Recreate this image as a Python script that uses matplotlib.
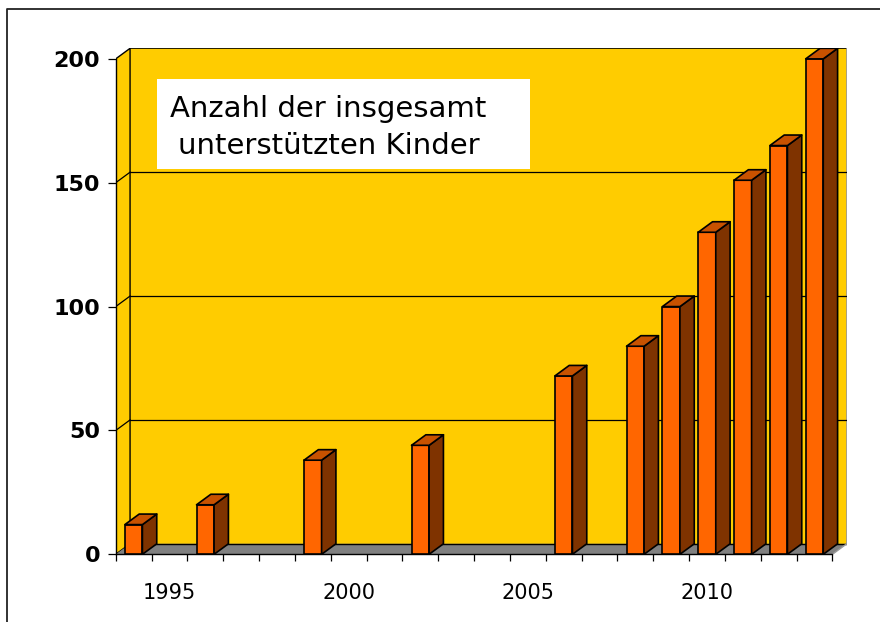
import matplotlib
matplotlib.use("Agg")
import matplotlib.pyplot as plt
from matplotlib.patches import Polygon, Rectangle
from matplotlib.lines import Line2D

# ============= Daten =============
years = list(range(1994, 2014))           # Kategorien der x-Achse
bar_years = [1994, 1996, 1999, 2002, 2006, 2008, 2009, 2010, 2011, 2012, 2013]
kinder = [12, 20, 38, 44, 72, 84, 100, 130, 151, 165, 200]
label_years = [1995, 2000, 2005, 2010]
y_ticks = [0, 50, 100, 150, 200]
title_lines = ["Anzahl der insgesamt", "unterstützten Kinder"]

# ============= Farben / 3D-Tiefe =============
WALL = '#FFCC00'
FLOOR = '#808080'
FRONT = '#FF6600'
TOP = '#C85200'
SIDE = '#7F3300'
DX = 0.4     # Tiefe in Kategorien
DZ = 4.25    # Tiefe in y-Einheiten
BW = 0.49    # Balkenbreite
YMAX = y_ticks[-1]
n = len(years)

fig = plt.figure(figsize=(8.8, 6.22), dpi=100)
ax = fig.add_axes([0.1315, 0.1088, 0.8307, 0.8135])
ax.set_xlim(0, n + DX)
ax.set_ylim(0, YMAX + DZ)
ax.patch.set_visible(False)

# Rueckwand, Seitenwand, Boden
ax.add_patch(Polygon([(DX, DZ), (n + DX, DZ), (n + DX, YMAX + DZ), (DX, YMAX + DZ)],
                     fc=WALL, ec='none', zorder=0))
ax.add_patch(Polygon([(0, 0), (DX, DZ), (DX, YMAX + DZ), (0, YMAX)],
                     fc=WALL, ec='black', lw=1, zorder=1))
ax.add_patch(Polygon([(0, 0), (DX, DZ), (n + DX, DZ), (n, 0)],
                     fc=FLOOR, ec='none', zorder=1))
ax.plot([DX, n + DX], [YMAX + DZ, YMAX + DZ], color='black', lw=1.2, zorder=2)
ax.plot([DX, n + DX], [DZ, DZ], color='black', lw=1, zorder=2)
ax.plot([n + DX, n + DX], [DZ, YMAX + DZ], color='#999999', lw=1.2, zorder=2)
ax.plot([n, n + DX], [0, DZ], color='#999999', lw=1, zorder=2)

# Gitternetzlinien
for v in y_ticks[1:-1]:
    ax.plot([DX, n + DX], [v + DZ, v + DZ], color='black', lw=0.9, zorder=2)
    ax.plot([0, DX], [v, v + DZ], color='black', lw=0.9, zorder=2)

# Balken
for yr, val in zip(bar_years, kinder):
    x0 = years.index(yr) + 0.5 - BW / 2
    x1 = x0 + BW
    kw = dict(ec='black', lw=1.2, joinstyle='round', zorder=3)
    ax.add_patch(Polygon([(x0, 0), (x1, 0), (x1, val), (x0, val)], fc=FRONT, **kw))
    ax.add_patch(Polygon([(x1, 0), (x1 + DX, DZ), (x1 + DX, val + DZ), (x1, val)], fc=SIDE, **kw))
    ax.add_patch(Polygon([(x0, val), (x1, val), (x1 + DX, val + DZ), (x0 + DX, val + DZ)], fc=TOP, **kw))

# Achsen
for s in ['top', 'right']:
    ax.spines[s].set_visible(False)
ax.spines['left'].set_bounds(0, YMAX)
ax.spines['bottom'].set_bounds(0, n)
ax.spines['left'].set_linewidth(1)
ax.spines['bottom'].set_linewidth(1)

ax.set_yticks(y_ticks)
ax.set_yticklabels([str(v) for v in y_ticks], fontsize=16, fontweight='bold')
ax.tick_params(axis='y', length=5.8, width=0.9, pad=5.5)

ax.set_xticks(range(n + 1), minor=True)
ax.set_xticks([years.index(y) + 0.5 for y in label_years])
ax.set_xticklabels([str(y) for y in label_years], fontsize=15)
ax.tick_params(axis='x', which='major', length=0, pad=21)
ax.tick_params(axis='x', which='minor', length=5, width=0.9)

# Titelkasten
fig.patches.append(Rectangle((157 / 880, 1 - 169 / 622), 373 / 880, 90 / 622,
                             transform=fig.transFigure, fc='white', ec='none', zorder=5))
fig.text(170 / 880, 1 - 117 / 622, title_lines[0], fontsize=21, va='baseline', zorder=6)
fig.text(178 / 880, 1 - 154 / 622, title_lines[1], fontsize=21, va='baseline', zorder=6)

# Rahmen
fig.lines.append(Line2D([7 / 880, 7 / 880, 1], [0, 1 - 9 / 622, 1 - 9 / 622],
                        transform=fig.transFigure, color='#222222', lw=1.3))

fig.savefig('out.png', dpi=100)
